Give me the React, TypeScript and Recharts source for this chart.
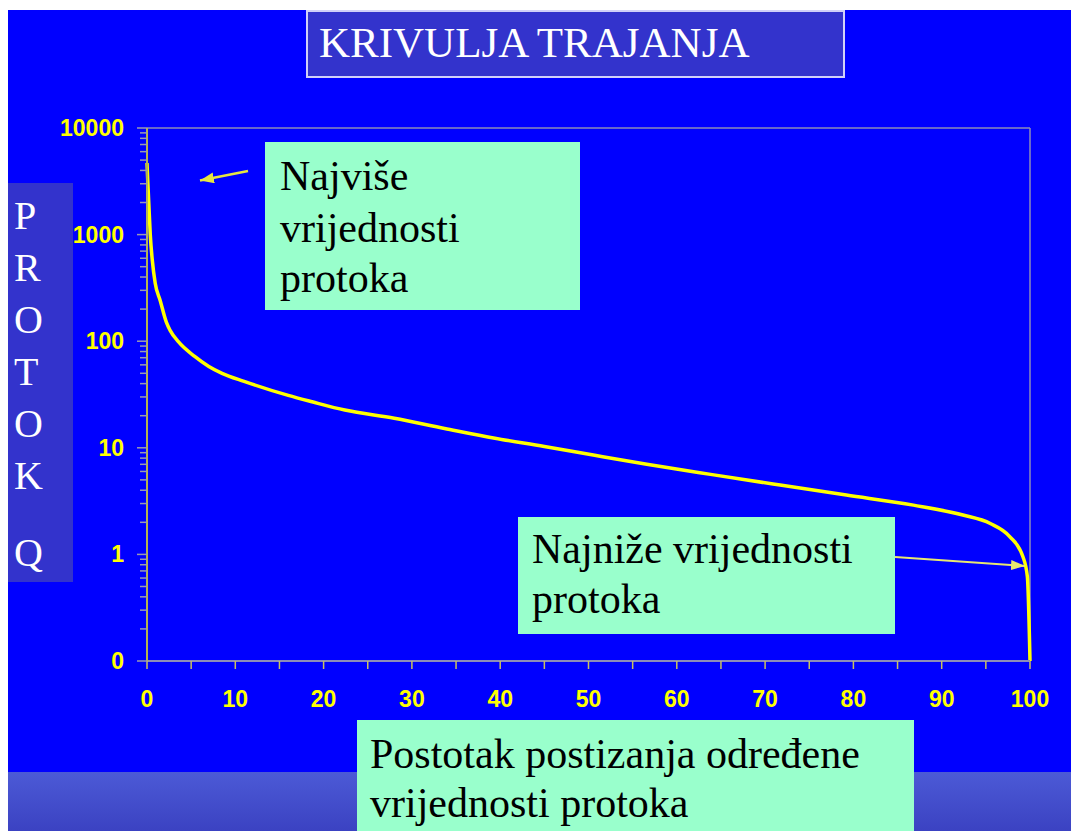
import { LineChart, Line, XAxis, YAxis, ReferenceLine } from "recharts";

// postotak trajanja (%) i protok Q
const percent = [0, 0.1, 0.2, 0.37, 0.6, 0.93, 1.5, 2.2, 2.6, 3.55, 5.4, 7, 8.5, 11, 16, 18.7, 22.4, 28, 33.7, 39.4, 45, 50.7, 56.6, 64, 71.7, 79.2, 86.8, 92.4, 95.5, 97.7, 99.2, 99.7, 100];
const flow = [4700, 3000, 2000, 1000, 575, 350, 240, 150, 127, 99, 72, 58, 50, 42, 31, 27, 22.6, 18.9, 15.2, 12.3, 10.3, 8.5, 7.0, 5.6, 4.47, 3.6, 2.9, 2.34, 1.95, 1.47, 0.95, 0.62, 0.1];

const yMajor = [0.1, 1, 10, 100, 1000, 10000];
const yMajorLabels = ["0", "1", "10", "100", "1000", "10000"];
const xTicks = [0, 5, 10, 15, 20, 25, 30, 35, 40, 45, 50, 55, 60, 65, 70, 75, 80, 85, 90, 95, 100];
const xLabels = [0, 10, 20, 30, 40, 50, 60, 70, 80, 90, 100];

const yMinor: number[] = [];
yMajor.slice(0, -1).forEach((d) => {
  for (let m = 2; m <= 9; m++) yMinor.push(+(m * d).toPrecision(3));
});
const yTicks = [...yMajor, ...yMinor].sort((a, b) => a - b);

const data = percent.map((p, i) => ({ p, q: flow[i] }));

const serif = "'Liberation Serif', 'Times New Roman', serif";
const sans = "'Liberation Sans', Arial, sans-serif";

function YTick(props: any) {
  const { x, y, payload } = props;
  const idx = yMajor.indexOf(payload.value);
  const major = idx >= 0;
  return (
    <g>
      <line x1={x - (major ? 10 : 7)} x2={x} y1={y} y2={y} stroke="#9a9ab0" strokeWidth={1.5} />
      {major && (
        <text x={x - 23} y={y + 8} textAnchor="end" fill="#ffff00" fontSize={23} fontWeight="bold" fontFamily={sans}>
          {yMajorLabels[idx]}
        </text>
      )}
    </g>
  );
}

function XTick(props: any) {
  const { x, y, payload } = props;
  const v = payload.value;
  return (
    <g>
      <line x1={x} x2={x} y1={y} y2={y + 8} stroke="#c8c060" strokeWidth={1.5} />
      {xLabels.includes(v) && (
        <text x={x} y={y + 46} textAnchor="middle" fill="#ffff00" fontSize={23} fontWeight="bold" fontFamily={sans}>
          {v}
        </text>
      )}
    </g>
  );
}

const protok = ["P", "R", "O", "T", "O", "K"];

export default function App() {
  return (
    <div style={{ position: "fixed", left: 0, top: 0, width: 1071, height: 831, overflow: "hidden", background: "#fff" }}>
      <div style={{ position: "absolute", left: 8, top: 10, right: 0, bottom: 0, background: "#0000ff" }} />
      <div
        style={{
          position: "absolute",
          left: 8,
          top: 772,
          right: 0,
          bottom: 0,
          background: "linear-gradient(#4c5ad6, #3b42c2)",
        }}
      />
      <div style={{ position: "absolute", left: 0, top: 0 }}>
        <LineChart width={1071} height={831} data={data} margin={{ top: 128, right: 41, bottom: 130, left: 67 }}>
          <XAxis
            dataKey="p"
            type="number"
            domain={[0, 100]}
            ticks={xTicks}
            interval={0}
            height={40}
            tickSize={0}
            tickMargin={0}
            tickLine={false}
            axisLine={{ stroke: "#8c8cb8", strokeWidth: 2 }}
            tick={(p: any) => <XTick {...p} />}
          />
          <YAxis
            scale="log"
            domain={[0.1, 10000]}
            ticks={yTicks}
            interval={0}
            width={80}
            tickSize={0}
            tickMargin={0}
            tickLine={false}
            axisLine={{ stroke: "#b4b450", strokeWidth: 2 }}
            tick={(p: any) => <YTick {...p} />}
          />
          <ReferenceLine y={10000} stroke="#8c8cb8" strokeWidth={1.5} />
          <ReferenceLine x={100} stroke="#8c8cb8" strokeWidth={1.5} />
          <Line type="monotone" dataKey="q" stroke="#ffff00" strokeWidth={3.5} dot={false} isAnimationActive={false} />
        </LineChart>
      </div>
      <svg width={1071} height={831} style={{ position: "absolute", left: 0, top: 0, pointerEvents: "none" }}>
        <defs>
          <marker id="ah1" markerUnits="userSpaceOnUse" markerWidth={14} markerHeight={11} refX={14} refY={5.5} orient="auto">
            <path d="M0,0 L14,5.5 L0,11 z" fill="#e6e640" />
          </marker>
          <marker id="ah2" markerUnits="userSpaceOnUse" markerWidth={14} markerHeight={10} refX={14} refY={5} orient="auto">
            <path d="M0,0 L14,5 L0,10 z" fill="#e8e870" />
          </marker>
        </defs>

        {/* naslov */}
        <rect x={307} y={11} width={537} height={66} fill="#3333cc" stroke="#d0d0f8" strokeWidth={2} />
        <text x={319} y={57} fill="#ffffff" fontSize={43} fontFamily={serif}>KRIVULJA TRAJANJA</text>

        {/* oznaka osi y */}
        <rect x={8} y={183} width={65} height={399} fill="#3333cc" />
        {protok.map((c, i) => (
          <text key={i} x={14} y={229 + i * 52} fill="#ffffff" fontSize={40} fontFamily={serif}>{c}</text>
        ))}
        <text x={14} y={566} fill="#ffffff" fontSize={40} fontFamily={serif}>Q</text>

        {/* napomene */}
        <rect x={265} y={142} width={315} height={168} fill="#99ffcc" />
        <text fontSize={42} fontFamily={serif} fill="#000">
          <tspan x={280} y={190}>Najviše</tspan>
          <tspan x={280} y={242}>vrijednosti</tspan>
          <tspan x={280} y={292}>protoka</tspan>
        </text>
        <line x1={248} y1={171} x2={200} y2={180.5} stroke="#e6e640" strokeWidth={2.5} markerEnd="url(#ah1)" />

        <rect x={518} y={517} width={377} height={117} fill="#99ffcc" />
        <text fontSize={42} fontFamily={serif} fill="#000">
          <tspan x={532} y={563}>Najniže vrijednosti</tspan>
          <tspan x={532} y={613}>protoka</tspan>
        </text>
        <line x1={895} y1={557} x2={1025} y2={566} stroke="#e8e870" strokeWidth={2} markerEnd="url(#ah2)" />

        <rect x={357} y={720} width={557} height={111} fill="#99ffcc" />
        <text fontSize={42} fontFamily={serif} fill="#000">
          <tspan x={370} y={768}>Postotak postizanja određene</tspan>
          <tspan x={370} y={817}>vrijednosti protoka</tspan>
        </text>
      </svg>
    </div>
  );
}
